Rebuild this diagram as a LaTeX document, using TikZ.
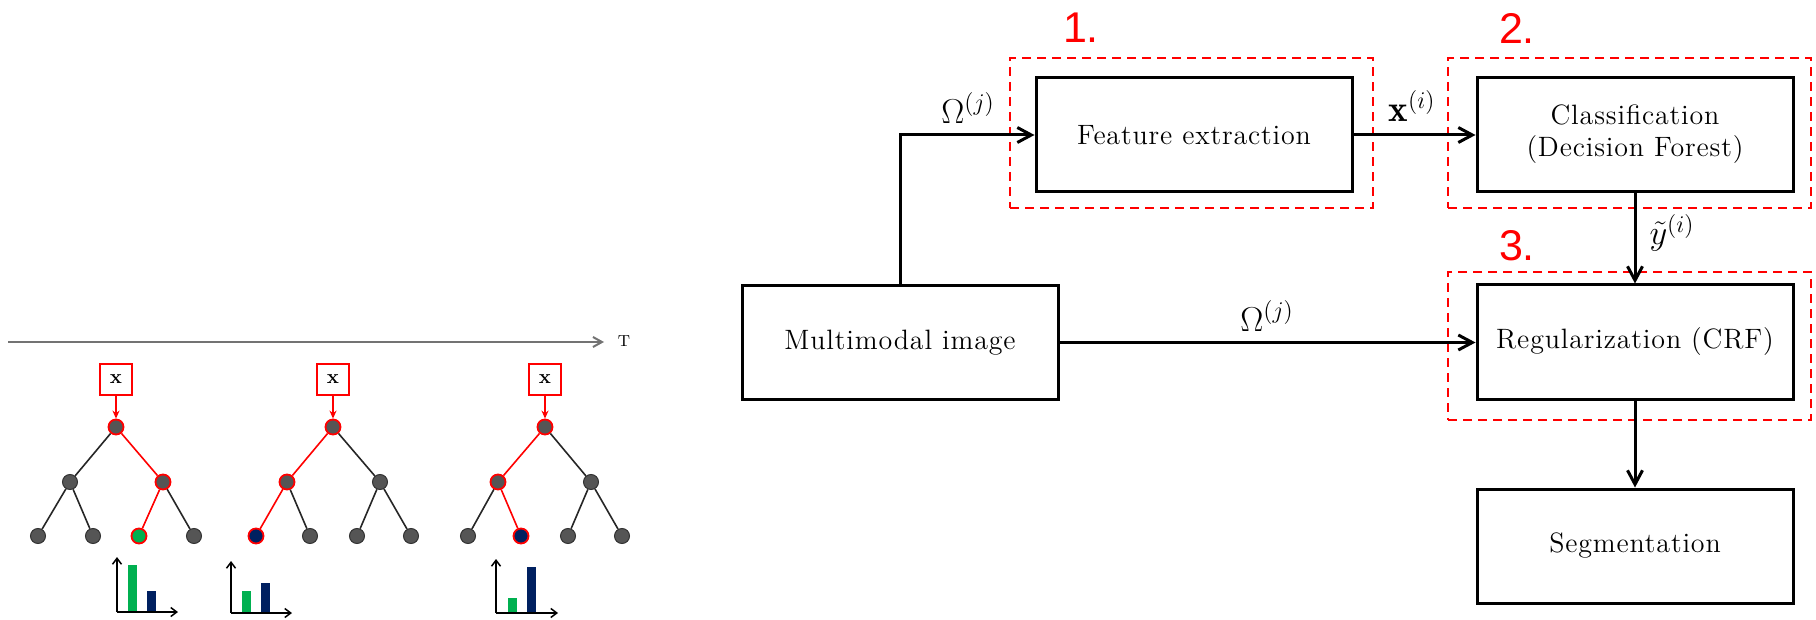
\documentclass[tikz,border=0pt]{standalone}
\usepackage{fontspec}
\newfontfamily\labelfont{Liberation Sans}
\newfontfamily\boxfont[LetterSpace=3]{Latin Modern Roman}
\usetikzlibrary{arrows.meta}
\definecolor{stepred}{HTML}{FF0000}
\definecolor{nodegray}{HTML}{555555}
\definecolor{bargreen}{HTML}{00B050}
\definecolor{barnavy}{HTML}{002060}
\begin{document}
\begin{tikzpicture}[x=0.5pt,y=-0.5pt,
  box/.style={draw=black, line width=1.5pt, minimum width=158pt, minimum height=57pt, inner sep=0pt, align=center, font=\boxfont\fontsize{14}{16}\selectfont},
  grp/.style={draw=stepred, line width=1pt, dash pattern=on 4.5pt off 3pt, minimum width=181.5pt, inner sep=0pt},
  num/.style={text=stepred, font=\labelfont\fontsize{21.5}{24}\selectfont, inner sep=0pt},
  lbl/.style={font=\fontsize{18.5}{22}\selectfont, inner sep=0pt},
  flow/.style={line width=1.5pt, -{Straight Barb[length=7pt,width=7.5pt]}},
  xbox/.style={draw=stepred, line width=0.7pt, minimum width=16pt, minimum height=15.5pt, inner sep=0pt, font=\fontsize{10}{12}\selectfont\bfseries},
  tn/.style={circle, minimum size=7.5pt, inner sep=0pt, fill=nodegray, draw=black!80, line width=0.5pt},
  tp/.style={tn, draw=stepred, line width=0.9pt},
  edge/.style={line width=0.8pt, black!85},
  redge/.style={line width=0.8pt, stepred},
  feed/.style={line width=0.7pt, stepred, -{Stealth[length=4pt,width=3.5pt]}},
  axis/.style={line width=0.75pt, black, -{Straight Barb[length=3pt,width=4.5pt]}},
  timeline/.style={line width=1pt, black!55, -{Straight Barb[length=4.5pt,width=5pt]}}
]
\useasboundingbox (0,0) rectangle (1816,620);

% ---------------- right: pipeline ----------------
\node[grp, minimum height=75pt] (g1) at (1191.5,133) {};
\node[grp, minimum height=75pt] (g2) at (1629.5,133) {};
\node[grp, minimum height=74pt] (g3) at (1629.5,346) {};
\node[num] (n1) at (1081,28) {1.};
\node[num] (n2) at (1517,28) {2.};
\node[num] (n3) at (1517,246) {3.};

\node[box] (mm) at (900,342.5) {Multimodal image};
\node[box] (fe) at (1194,135) {Feature extraction};
\node[box] (cl) at (1635,134.5) {Classification\\(Decision Forest)};
\node[box] (reg) at (1635,342) {Regularization (CRF)};
\node[box] (seg) at (1635,546) {Segmentation};

\draw[flow] (mm.north) |- (fe.west);
\draw[flow] (fe.east) -- (fe.east -| cl.west);
\draw[flow] (mm.east) -- (mm.east -| reg.west);
\draw[flow] (cl.south) -- (reg.north);
\draw[flow] (reg.south) -- (seg.north);

\node[lbl] (om1) at (968,108) {$\Omega^{(j)}$};
\node[lbl] (xi) at (1412,106) {$\mathbf{x}^{(i)}$};
\node[lbl] (om2) at (1267,316) {$\Omega^{(j)}$};
\node[lbl] (yi) at (1672,233) {$\tilde{y}^{(i)}$};

% ---------------- left: forest ----------------
\coordinate (t0) at (8,342);
\coordinate (t1) at (604,342);
\draw[timeline] (t0) -- (t1);
\node[font=\fontsize{8}{10}\selectfont, inner sep=0pt] (tl) at (624,341) {T};

% tree 1
\node[xbox] (ax) at (116,379.5) {x};
\node[tp] (ar) at (116,427) {};
\node[tn] (al) at (70,482) {};
\node[tp] (aR) at (163,482) {};
\node[tn] (a1) at (38,536) {};
\node[tn] (a2) at (93,536) {};
\node[tp, fill=bargreen] (a3) at (139,536) {};
\node[tn] (a4) at (194,536) {};
\draw[feed] (ax) -- (ar);
\draw[edge] (ar) -- (al);
\draw[edge] (al) -- (a1);
\draw[edge] (al) -- (a2);
\draw[edge] (aR) -- (a4);
\draw[redge] (ar) -- (aR);
\draw[redge] (aR) -- (a3);

% tree 2
\node[xbox] (bx) at (333,379.5) {x};
\node[tp] (br) at (333,427) {};
\node[tp] (bl) at (287,482) {};
\node[tn] (bR) at (380,482) {};
\node[tp, fill=barnavy] (b1) at (256,536) {};
\node[tn] (b2) at (310,536) {};
\node[tn] (b3) at (357,536) {};
\node[tn] (b4) at (411,536) {};
\draw[feed] (bx) -- (br);
\draw[redge] (br) -- (bl);
\draw[redge] (bl) -- (b1);
\draw[edge] (bl) -- (b2);
\draw[edge] (br) -- (bR);
\draw[edge] (bR) -- (b3);
\draw[edge] (bR) -- (b4);

% tree 3
\node[xbox] (cx) at (545,379.5) {x};
\node[tp] (cr) at (545,427) {};
\node[tp] (cL) at (498,482) {};
\node[tn] (cR) at (591,482) {};
\node[tn] (c1) at (468,536) {};
\node[tp, fill=barnavy] (c2) at (521,536) {};
\node[tn] (c3) at (568,536) {};
\node[tn] (c4) at (622,536) {};
\draw[feed] (cx) -- (cr);
\draw[redge] (cr) -- (cL);
\draw[redge] (cL) -- (c2);
\draw[edge] (cL) -- (c1);
\draw[edge] (cr) -- (cR);
\draw[edge] (cR) -- (c3);
\draw[edge] (cR) -- (c4);

% histograms
\fill[bargreen] (128,612) rectangle (137,565);
\fill[barnavy] (147,612) rectangle (156,591);
\coordinate (h1o) at (117,612);
\coordinate (h1y) at (117,557);
\coordinate (h1x) at (178,612);
\draw[axis] (h1o) -- (h1y);
\draw[axis] (h1o) -- (h1x);

\fill[bargreen] (242,613) rectangle (251,591);
\fill[barnavy] (261,613) rectangle (270,583);
\coordinate (h2o) at (231,613);
\coordinate (h2y) at (231,561);
\coordinate (h2x) at (292,613);
\draw[axis] (h2o) -- (h2y);
\draw[axis] (h2o) -- (h2x);

\fill[bargreen] (508,613) rectangle (517,598);
\fill[barnavy] (527,613) rectangle (536,567);
\coordinate (h3o) at (496,613);
\coordinate (h3y) at (496,559);
\coordinate (h3x) at (558,613);
\draw[axis] (h3o) -- (h3y);
\draw[axis] (h3o) -- (h3x);
\end{tikzpicture}
\end{document}
